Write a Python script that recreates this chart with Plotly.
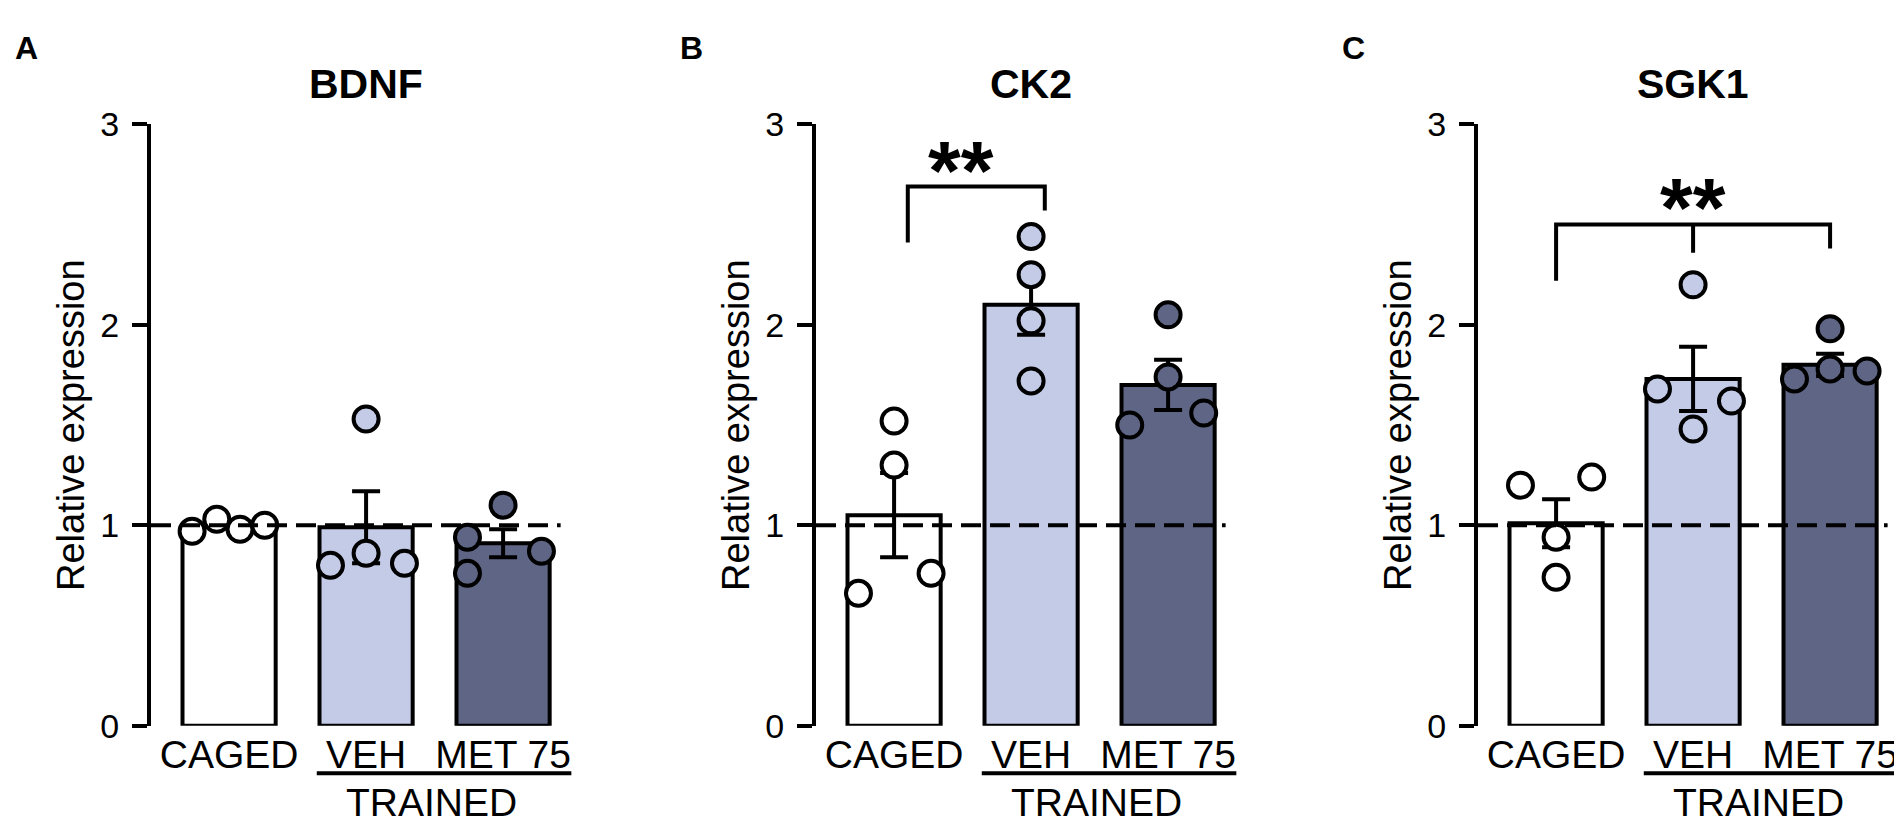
import plotly.graph_objects as go
from plotly.subplots import make_subplots

# --- data ---
genes = ["BDNF", "CK2", "SGK1"]
panel_letters = ["A", "B", "C"]
groups = ["CAGED", "VEH", "MET 75"]
trained_label = "TRAINED"
y_title = "Relative expression"
y_ticks = [0, 1, 2, 3]

bdnf_mean = [1.00, 0.99, 0.91]
bdnf_sem = [0.015, 0.18, 0.07]
bdnf_caged = [0.97, 1.03, 0.98, 1.00]
bdnf_veh = [0.80, 0.86, 0.81, 1.53]
bdnf_met = [0.94, 0.76, 1.10, 0.87]

ck2_mean = [1.05, 2.10, 1.70]
ck2_sem = [0.21, 0.15, 0.125]
ck2_caged = [1.52, 1.30, 0.76, 0.66]
ck2_veh = [2.44, 2.25, 2.02, 1.72]
ck2_met = [2.05, 1.74, 1.56, 1.50]

sgk1_mean = [1.01, 1.73, 1.80]
sgk1_sem = [0.12, 0.16, 0.055]
sgk1_caged = [1.20, 1.24, 0.94, 0.74]
sgk1_veh = [2.20, 1.68, 1.62, 1.48]
sgk1_met = [1.98, 1.78, 1.77, 1.73]

# horizontal scatter of the dots (fraction of category spacing)
bdnf_jitter = [[-0.27, -0.09, 0.08, 0.26], [-0.26, 0, 0.28, 0], [-0.26, -0.26, 0, 0.28]]
ck2_jitter = [[0, 0, 0.27, -0.26], [0, 0, 0, 0], [0, 0, 0.26, -0.28]]
sgk1_jitter = [[-0.26, 0.26, 0, 0], [0, -0.26, 0.28, 0], [0, 0, 0.27, -0.26]]

# significance brackets: leg x, leg bottoms, bar height, star position
ck2_sig = dict(legs=[0.1, 1.1], bottoms=[2.41, 2.57], top=2.69, star_x=0.49, star_y=2.79, text="**")
sgk1_sig = dict(legs=[0, 1, 2], bottoms=[2.22, 2.36, 2.38], top=2.5, star_x=1, star_y=2.61, text="**")

reference_level = 1.0

panels = [
    (bdnf_mean, bdnf_sem, [bdnf_caged, bdnf_veh, bdnf_met], bdnf_jitter, None),
    (ck2_mean, ck2_sem, [ck2_caged, ck2_veh, ck2_met], ck2_jitter, ck2_sig),
    (sgk1_mean, sgk1_sem, [sgk1_caged, sgk1_veh, sgk1_met], sgk1_jitter, sgk1_sig),
]

# --- style ---
W, H = 1902, 834
FONT = "Liberation Sans, Arial, sans-serif"
colors = ["#FFFFFF", "#C4CBE7", "#5F6584"]
LW = 4
axis_left_px = [143, 808, 1470]
x_range = [-0.57, 2.5]
unit_px = 137
y_bottom_px, y_top_px = 732, 102

fig = make_subplots(rows=1, cols=3)
xpos = list(range(len(groups)))

for i, (mean, sem, pts, jit, sig) in enumerate(panels):
    col = i + 1
    fig.add_trace(go.Bar(
        x=xpos, y=mean, width=0.68,
        marker=dict(color=colors, line=dict(color="black", width=LW)),
        error_y=dict(type="data", array=sem, color="black", thickness=LW, width=14),
        hoverinfo="skip",
    ), row=1, col=col)
    for g in range(len(groups)):
        fig.add_trace(go.Scatter(
            x=[xpos[g] + j for j in jit[g]], y=pts[g], mode="markers",
            marker=dict(size=25, color=colors[g], line=dict(color="black", width=4)),
            hoverinfo="skip",
        ), row=1, col=col)
    if sig:
        legs, bots, top = sig["legs"], sig["bottoms"], sig["top"]
        fig.add_trace(go.Scatter(
            x=[legs[0], legs[0], legs[-1], legs[-1]], y=[bots[0], top, top, bots[-1]],
            mode="lines", line=dict(color="black", width=LW), hoverinfo="skip",
        ), row=1, col=col)
        for lx, lb in zip(legs[1:-1], bots[1:-1]):
            fig.add_trace(go.Scatter(
                x=[lx, lx], y=[top, lb], mode="lines",
                line=dict(color="black", width=LW), hoverinfo="skip",
            ), row=1, col=col)
        # asterisk glyphs sit high in the text box, so pull them down a little
        fig.add_annotation(x=sig["star_x"], y=sig["star_y"], xref=f"x{col}", yref=f"y{col}",
                           text="<b>%s</b>" % sig["text"], showarrow=False, yshift=-5,
                           font=dict(family=FONT, size=84, color="black"), yanchor="middle")

    # domains
    x0 = axis_left_px[i] / W
    x1 = (axis_left_px[i] + (x_range[1] - x_range[0]) * unit_px) / W
    ydom = [(H - y_bottom_px) / H, (H - y_top_px) / H]
    sfx = "" if col == 1 else str(col)
    fig.layout["xaxis" + sfx].update(
        domain=[x0, x1], range=x_range, tickvals=xpos, ticktext=groups,
        showline=False, showgrid=False, zeroline=False, ticks="",
        tickfont=dict(family=FONT, size=39, color="black"), ticklabelstandoff=2,
    )
    fig.layout["yaxis" + sfx].update(
        domain=ydom, range=[0, 3], tickvals=y_ticks,
        showline=True, linecolor="black", linewidth=LW, showgrid=False, zeroline=False,
        ticks="outside", ticklen=15, tickwidth=LW, tickcolor="black",
        tickfont=dict(family=FONT, size=34, color="black"), ticklabelstandoff=6,
    )

    # dashed reference line at 1
    fig.add_shape(type="line", xref=f"x{col}", yref=f"y{col}",
                  x0=x_range[0], x1=2.42, y0=reference_level, y1=reference_level,
                  line=dict(color="black", width=LW, dash="20px,9px"), layer="above")

    # gene title
    fig.add_annotation(x=1, y=(H - 60) / H, xref=f"x{col}", yref="paper",
                       text="<b>%s</b>" % genes[i], showarrow=False, yanchor="middle",
                       font=dict(family=FONT, size=41, color="black"))
    # panel letter
    fig.add_annotation(x=(axis_left_px[i] - 138) / W, y=(H - 22) / H, xref="paper", yref="paper",
                       text="<b>%s</b>" % panel_letters[i], showarrow=False,
                       xanchor="left", yanchor="middle",
                       font=dict(family=FONT, size=32, color="black"))
    # y axis title
    fig.add_annotation(x=(axis_left_px[i] - 80) / W, y=sum(ydom) / 2, xref="paper", yref="paper",
                       text=y_title, textangle=-90, showarrow=False,
                       xanchor="center", yanchor="middle",
                       font=dict(family=FONT, size=38, color="black"))
    # TRAINED group line and label
    fig.add_shape(type="line", xref=f"x{col}", yref="paper",
                  x0=0.64, x1=2.5, y0=(H - 782) / H, y1=(H - 782) / H,
                  line=dict(color="black", width=LW))
    fig.add_annotation(x=1.48, y=(H - 813) / H, xref=f"x{col}", yref="paper",
                       text=trained_label, showarrow=False, yanchor="middle",
                       font=dict(family=FONT, size=39, color="black"))

fig.update_layout(
    width=W, height=H, margin=dict(l=0, r=0, t=0, b=0),
    paper_bgcolor="white", plot_bgcolor="white", showlegend=False,
)

fig.write_html("out.html")
